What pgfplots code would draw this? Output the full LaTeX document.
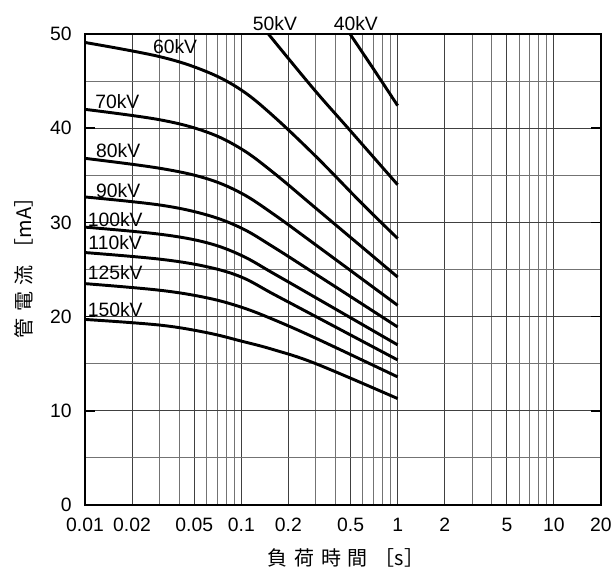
\documentclass[border=0pt]{standalone}
\usepackage{fontspec}
\setmainfont{Liberation Sans}
\newfontfamily\cjk{Noto Sans CJK JP}
\usepackage{pgfplots}
\pgfplotsset{compat=1.18}

\begin{document}
\begin{tikzpicture}[font=\fontsize{14.5pt}{17pt}\selectfont]
\begin{axis}[
  at={(0,0)}, anchor=south west,
  scale only axis, width=387pt, height=353.25pt,
  xmode=log, log basis x=10,
  xmin=0.01, xmax=20, ymin=0, ymax=50,
  xtick={0.01,0.02,0.05,0.1,0.2,0.5,1,2,5,10,20},
  xticklabels={0.01,0.02,0.05,0.1,0.2,0.5,1,2,5,10,20},
  minor xtick={0.03,0.04,0.06,0.07,0.08,0.09,0.3,0.4,0.6,0.7,0.8,0.9,3,4,6,7,8,9},
  ytick={0,10,20,30,40,50},
  yticklabels={0,10,20,30,40,50},
  minor ytick={5,15,25,35,45},
  grid=both,
  major grid style={black!75, line width=0.75pt},
  minor grid style={black!55, line width=0.75pt},
  axis line style={line width=1.5pt},
  tick align=inside,
  ytick pos=both,
  major tick length=7.5pt, minor tick length=0pt,
  xtick style={draw=none},
  ytick style={black, line width=1.2pt},
  xticklabel style={inner sep=0pt, anchor=north, yshift=-9.75pt},
  yticklabel style={inner sep=0pt, anchor=east, xshift=-9.75pt},
  curve/.style={black, solid, mark=none, line width=2.2pt, smooth, tension=0.6},
]
% 40 kV
\addplot[curve] coordinates {(0.496,50) (0.7,46.3) (1,42.4)};
% 50 kV
\addplot[curve] coordinates {(0.149,50) (0.289,44.2) (0.5,39.7) (1,34.0)};
% 60 kV
\addplot[curve] coordinates {(0.01,49.1) (0.03,47.6) (0.06,46.0) (0.1,44.05)
  (0.16,41.3) (0.3,37.0) (0.6,31.9) (1,28.3)};
% 70 kV
\addplot[curve] coordinates {(0.01,42.0) (0.03,40.9) (0.06,39.6) (0.1,37.8)
  (0.16,35.3) (0.3,31.5) (1,24.2)};
% 80 kV
\addplot[curve] coordinates {(0.01,36.8) (0.03,35.75) (0.06,34.65) (0.1,33.1)
  (0.16,30.9) (0.3,27.6) (1,21.2)};
% 90 kV
\addplot[curve] coordinates {(0.01,32.7) (0.03,31.85) (0.06,30.8) (0.1,29.4)
  (0.16,27.4) (0.3,24.5) (1,18.9)};
% 100 kV
\addplot[curve] coordinates {(0.01,29.5) (0.03,28.75) (0.06,27.85) (0.1,26.5)
  (0.16,24.6) (0.3,22.0) (1,17.0)};
% 110 kV
\addplot[curve] coordinates {(0.01,26.8) (0.03,26.1) (0.06,25.3) (0.1,24.2)
  (0.16,22.4) (0.3,20.0) (1,15.4)};
% 125 kV
\addplot[curve] coordinates {(0.01,23.5) (0.03,22.8) (0.06,22.0) (0.1,21.0)
  (0.16,19.7) (0.3,17.7) (1,13.6)};
% 150 kV
\addplot[curve] coordinates {(0.01,19.7) (0.03,19.1) (0.06,18.3) (0.1,17.4)
  (0.16,16.5) (0.3,15.0) (1,11.3)};

\node[inner sep=0pt] at (axis cs:0.0377,48.7) {60kV};
\node[inner sep=0pt] at (axis cs:0.0161,42.8) {70kV};
\node[inner sep=0pt] at (axis cs:0.0163,37.6) {80kV};
\node[inner sep=0pt] at (axis cs:0.0163,33.35) {90kV};
\node[inner sep=0pt] at (axis cs:0.0156,30.33) {100kV};
\node[inner sep=0pt] at (axis cs:0.0156,27.87) {110kV};
\node[inner sep=0pt] at (axis cs:0.0156,24.68) {125kV};
\node[inner sep=0pt] at (axis cs:0.0156,20.75) {150kV};
\end{axis}

% curve labels above the frame
\node[inner sep=0pt] at (142.5pt,361.1pt) {50kV};
\node[inner sep=0pt] at (203.1pt,361.1pt) {40kV};

% axis titles
\node[rotate=90, inner sep=0pt, font=\cjk\fontsize{15pt}{18pt}\selectfont]
  at (-45.75pt,181.5pt) {管\hspace{5pt}電\hspace{5pt}流\hspace{5pt}［mA］};
\node[inner sep=0pt, font=\cjk\fontsize{15pt}{18pt}\selectfont]
  at (195.75pt,-39.75pt) {負\hspace{5pt}荷\hspace{5pt}時\hspace{5pt}間\hspace{5pt}［s］};

\pgfresetboundingbox
\path (-63.75pt,-48pt) rectangle (396.75pt,378.75pt);
\end{tikzpicture}
\end{document}
